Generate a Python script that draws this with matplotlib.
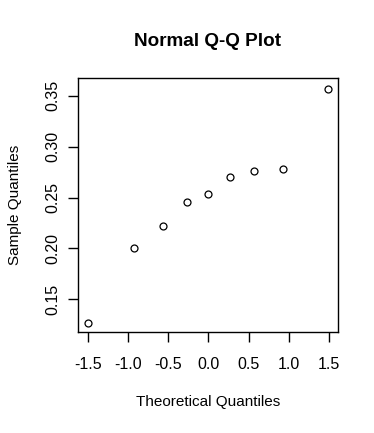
import matplotlib
matplotlib.use("Agg")
import matplotlib.pyplot as plt

# theoretical vs sample quantiles
theoretical = [-1.49, -0.93, -0.57, -0.27, 0.0, 0.27, 0.57, 0.93, 1.49]
sample = [0.127, 0.200, 0.222, 0.246, 0.253, 0.270, 0.276, 0.278, 0.357]

xticks = [-1.5, -1.0, -0.5, 0.0, 0.5, 1.0, 1.5]
yticks = [0.15, 0.20, 0.25, 0.30, 0.35]

plt.rcParams['font.family'] = ['Liberation Sans', 'DejaVu Sans']

fig = plt.figure(figsize=(3.74, 4.33), dpi=100)
ax = fig.add_axes([78 / 374, 1 - 332 / 433, 260 / 374, 254 / 433])

ax.plot(theoretical, sample, linestyle="none", marker="o", markersize=5,
        markerfacecolor="none", markeredgecolor="black", markeredgewidth=0.9)

ax.set_xlim(-1.62, 1.61)
ax.set_ylim(0.1179, 0.3674)
ax.set_xticks(xticks)
ax.set_xticklabels(["%.1f" % v for v in xticks])
ax.set_yticks(yticks)
ax.set_yticklabels(["%.2f" % v for v in yticks], rotation=90, va="center")

for s in ax.spines.values():
    s.set_linewidth(1.0)
ax.tick_params(direction="out", length=7, width=1.0, labelsize=11.5)
ax.tick_params(axis="x", pad=11)
ax.tick_params(axis="y", pad=6)

fig.text(0.5 * (78 + 338) / 374, 1 - 41 / 433, "Normal Q-Q Plot",
         ha="center", va="center", fontsize=13.6, fontweight="bold")
fig.text(0.5 * (78 + 338) / 374, 1 - 402 / 433, "Theoretical Quantiles",
         ha="center", va="center", fontsize=11)
fig.text(15 / 374, 1 - 205 / 433, "Sample Quantiles",
         ha="center", va="center", fontsize=11, rotation=90)

fig.savefig("out.png", dpi=100)
